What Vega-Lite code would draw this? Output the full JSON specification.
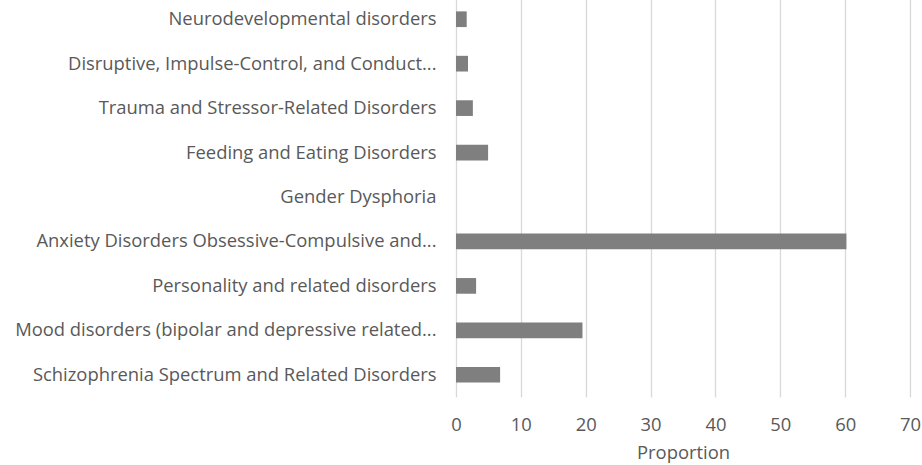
{
  "$schema": "https://vega.github.io/schema/vega-lite/v6.json",
  "autosize": {"type": "none"},
  "padding": {"left": 456, "top": -3, "right": 12, "bottom": 68},
  "width": 454,
  "height": 400,
  "background": "white",
  "config": {
    "view": {"stroke": null},
    "font": "Open Sans"
  },
  "data": {
    "values": [
      {"category": "Neurodevelopmental disorders", "value": 1.65},
      {"category": "Disruptive, Impulse-Control, and Conduct...", "value": 1.85},
      {"category": "Trauma and Stressor-Related Disorders", "value": 2.6},
      {"category": "Feeding and Eating Disorders", "value": 4.95},
      {"category": "Gender Dysphoria", "value": 0},
      {"category": "Anxiety Disorders Obsessive-Compulsive and...", "value": 60.2},
      {"category": "Personality and related disorders", "value": 3.1},
      {"category": "Mood disorders (bipolar and depressive related...", "value": 19.5},
      {"category": "Schizophrenia Spectrum and Related Disorders", "value": 6.8}
    ]
  },
  "mark": {"type": "bar", "color": "#7f7f7f"},
  "encoding": {
    "y": {
      "field": "category",
      "type": "nominal",
      "sort": null,
      "scale": {"paddingInner": 0.647, "paddingOuter": 0.3235},
      "axis": {
        "title": null,
        "domain": false,
        "ticks": false,
        "labelPadding": 20,
        "labelFontSize": 18.4,
        "labelColor": "#595959",
        "labelLimit": 500
      }
    },
    "x": {
      "field": "value",
      "type": "quantitative",
      "scale": {"domain": [0, 70], "nice": false},
      "axis": {
        "values": [0, 10, 20, 30, 40, 50, 60, 70],
        "title": "Proportion",
        "titleFontSize": 18.4,
        "titleFontWeight": "normal",
        "titleColor": "#595959",
        "titlePadding": 10,
        "labelFontSize": 18.4,
        "labelColor": "#595959",
        "labelPadding": 18,
        "labelFlush": false,
        "domain": false,
        "ticks": false,
        "grid": true,
        "gridColor": "#d9d9d9",
        "gridWidth": 1.3
      }
    }
  }
}
